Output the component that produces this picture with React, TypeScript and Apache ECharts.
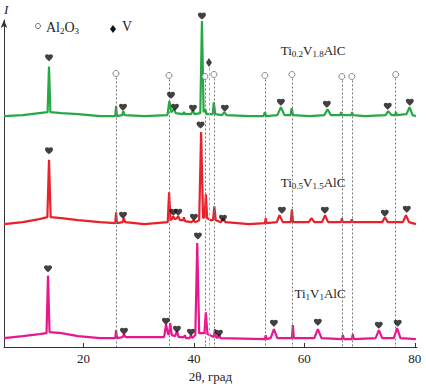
import React, { useEffect, useRef } from "react";
import * as echarts from "echarts";

// 2θ (deg), intensity (arbitrary units)
const xTicks = [20, 40, 60, 80];

const greenProfile: [number, number][] = [
  [5.6, 233], [9, 234], [12, 236], [13.5, 237], [13.75, 283], [14.0, 237], [16, 236], [19, 235], [23, 233],
  [25.75, 233], [25.9, 243], [26.05, 233], [27.0, 234], [27.2, 238], [27.45, 234], [31, 233],
  [35.2, 234], [35.55, 248], [35.9, 237], [36.4, 240], [36.7, 236], [38.0, 235], [38.2, 237], [38.4, 235],
  [39.5, 235], [39.82, 239], [40.1, 235], [41.15, 236], [41.45, 329], [41.75, 237], [42.05, 240], [42.3, 235],
  [43.4, 235], [43.6, 247], [43.85, 235], [45.1, 234], [45.5, 237], [45.9, 234], [50, 233],
  [52.6, 233], [52.85, 237], [53.1, 233], [55.1, 234], [55.75, 242], [56.4, 234], [57.5, 234], [57.7, 241],
  [57.95, 234], [61, 233], [63.6, 234], [64.2, 240], [64.8, 234], [66.5, 234], [66.65, 237], [66.8, 234],
  [68.5, 234], [68.65, 237], [68.8, 234], [71, 233], [74.7, 234], [75.2, 238], [75.8, 234], [76.45, 234],
  [76.6, 237], [76.75, 234], [78.5, 235], [79.05, 242], [79.6, 234], [80.2, 233],
];

const redProfile: [number, number][] = [
  [5.6, 124], [9, 126], [12, 129], [13.45, 131], [13.75, 189], [14.05, 131], [16, 130], [19, 128], [23, 126],
  [25.75, 125], [25.9, 136], [26.05, 125], [27.1, 126], [27.3, 130], [27.55, 126], [31, 124],
  [35.25, 126], [35.5, 156], [35.75, 128], [36.0, 129], [36.25, 132], [36.55, 129], [36.9, 130], [37.15, 132],
  [37.45, 128], [38.05, 128], [38.2, 131], [38.35, 127], [39.6, 126], [39.9, 128], [40.2, 126],
  [40.95, 128], [41.3, 217], [41.65, 130], [41.95, 132], [42.15, 154], [42.4, 130], [43.1, 128],
  [43.45, 128], [43.7, 142], [43.95, 128], [44.9, 126], [45.3, 130], [45.7, 126], [50, 124],
  [52.85, 125], [53.0, 130], [53.15, 125], [55.0, 126], [55.5, 133], [56.1, 126], [57.55, 126], [57.74, 139],
  [57.95, 126], [60.8, 126], [61.3, 130], [61.8, 126], [63.2, 126], [63.75, 133], [64.3, 126],
  [66.65, 126], [66.8, 130], [66.95, 126], [68.45, 126], [68.6, 129], [68.75, 126], [74.1, 126],
  [74.6, 131], [75.1, 126], [77.85, 126], [78.4, 133], [78.95, 126], [80.2, 124],
];

const magentaProfile: [number, number][] = [
  [5.6, 9], [9, 11], [12, 13], [13.3, 14], [13.57, 72], [13.85, 15], [16, 14], [19, 11], [23, 9],
  [25.75, 9], [25.9, 17], [26.05, 9], [27.1, 10], [27.33, 13], [27.6, 10], [34.6, 10], [34.95, 23],
  [35.3, 13], [35.5, 13], [35.7, 24], [36.0, 12], [36.6, 11], [36.92, 16], [37.25, 10], [38.2, 10],
  [38.37, 12], [38.55, 9], [39.2, 9], [39.46, 12], [39.7, 9], [40.25, 12], [40.6, 105], [40.95, 14],
  [41.9, 14], [42.15, 35], [42.45, 13], [43.6, 10], [43.8, 18], [44.0, 10], [44.3, 9], [44.55, 13],
  [44.8, 9], [52.85, 8], [53.0, 12], [53.15, 8], [53.9, 9], [54.48, 18], [55.1, 9], [57.75, 9],
  [57.92, 22], [58.1, 9], [61.8, 9], [62.45, 18], [63.1, 9], [66.8, 8], [66.97, 12], [67.15, 8],
  [68.6, 8], [68.78, 13], [68.95, 8], [72.9, 9], [73.5, 17], [74.1, 9], [76.2, 9], [76.8, 19],
  [77.4, 9], [80.2, 8],
];

// MAX-phase reflections (hearts)
const greenHearts: [number, number][] = [
  [13.75, 292], [27.15, 242], [35.84, 254], [36.56, 242], [39.82, 241], [41.45, 334],
  [45.6, 241], [55.75, 247], [64.07, 245], [75.1, 243], [79.1, 247],
];
const redHearts: [number, number][] = [
  [13.75, 198], [27.15, 133], [36.26, 136], [37.16, 136], [40.0, 131], [41.2, 224],
  [45.25, 130], [55.93, 138], [63.71, 138], [74.57, 135], [78.55, 139],
];
const magentaHearts: [number, number][] = [
  [13.57, 79], [27.33, 16], [34.93, 26], [36.92, 18], [39.46, 15], [40.72, 112],
  [44.52, 14], [54.48, 24], [62.44, 25], [73.48, 22], [76.9, 24],
];

// Al2O3 reference positions (circles) and V (diamond)
const al2o3Theta = [25.88, 35.48, 41.99, 43.62, 52.85, 57.74, 66.79, 68.6, 76.55];
const al2o3Mark = [276, 274, 273, 275, 274, 275, 273, 273, 275];
const vTheta = [42.72];
const vMark = [287];

const sampleNames = [
  { ti: "0.2", v: "1.8" },
  { ti: "0.5", v: "1.5" },
  { ti: "1", v: "1" },
];

const HEART =
  "path://M12 21.35l-1.45-1.32C5.4 15.36 2 12.28 2 8.5 2 5.42 4.42 3 7.5 3c1.74 0 3.41.81 4.5 2.09C13.09 3.81 14.76 3 16.5 3 19.58 3 22 5.42 22 8.5c0 3.78-3.4 6.86-8.55 11.54L12 21.35z";

export default function App() {
  const ref = useRef<HTMLDivElement>(null);
  useEffect(() => {
    document.body.style.margin = "0";
    const chart = echarts.init(ref.current!, null, { renderer: "svg" });
    const serif = "Liberation Serif";
    const ink = "#222";
    const subStyle = { fontSize: 9, fontFamily: serif, fill: ink, verticalAlign: "bottom", lineHeight: 8 };
    const mainStyle = { fontSize: 13, fontFamily: serif, fill: ink, lineHeight: 16 };
    const sampleText = (n: { ti: string; v: string }) =>
      `{m|Ti}{s|${n.ti}}{m|V}{s|${n.v}}{m|AlC}`;
    const samplePos = [
      [313, 50],
      [313, 182],
      [320, 293],
    ];

    const heartSeries = (data: [number, number][]) => ({
      type: "scatter",
      data,
      symbol: HEART,
      symbolSize: [8, 7],
      itemStyle: { color: "#111" },
      clip: false,
      silent: true,
      z: 5,
    });

    const option: any = {
      animation: false,
      backgroundColor: "#fff",
      textStyle: { fontFamily: serif },
      grid: { left: 4, right: 9, top: 20, bottom: 38 },
      xAxis: {
        type: "value",
        min: 5.6,
        max: 80.4,
        name: "2θ, град",
        nameLocation: "middle",
        nameGap: 23,
        nameTextStyle: { fontFamily: serif, fontSize: 13, color: ink },
        axisLine: { lineStyle: { color: "#333", width: 1 } },
        axisTick: { show: true, inside: true, length: 4, customValues: xTicks, lineStyle: { color: "#333" } },
        axisLabel: { customValues: xTicks, fontFamily: serif, fontSize: 13, color: ink, margin: 5 },
        splitLine: { show: false },
      },
      yAxis: {
        type: "value",
        min: 0,
        max: 330,
        axisLine: {
          show: true,
          symbol: ["none", "arrow"],
          symbolSize: [5, 8],
          lineStyle: { color: "#333", width: 1 },
        },
        axisTick: { show: false },
        axisLabel: { show: false },
        splitLine: { show: false },
      },
      graphic: [
        {
          type: "text",
          left: 4,
          top: 3,
          style: { text: "I", fontFamily: serif, fontSize: 13, fontStyle: "italic", fill: ink },
        },
        {
          type: "circle",
          shape: { cx: 38, cy: 26, r: 2.5 },
          style: { fill: "#fff", stroke: "#5f6f77", lineWidth: 1 },
        },
        {
          type: "text",
          x: 46,
          y: 27,
          style: {
            text: "{m|Al}{s|2}{m|O}{s|3}",
            textVerticalAlign: "middle",
            rich: { m: { ...mainStyle, fontSize: 14 }, s: subStyle },
          },
        },
        {
          type: "polygon",
          shape: { points: [[113, 25], [116, 29], [113, 33], [110, 29]] },
          style: { fill: "#111" },
        },
        {
          type: "text",
          x: 122,
          y: 26,
          style: { text: "V", fontFamily: serif, fontSize: 14, fill: ink, textVerticalAlign: "middle" },
        },
        ...sampleNames.map((n, i) => ({
          type: "text",
          x: samplePos[i][0],
          y: samplePos[i][1],
          style: {
            text: sampleText(n),
            textAlign: "center",
            textVerticalAlign: "middle",
            rich: { m: mainStyle, s: subStyle },
          },
        })),
      ],
      series: [
        {
          type: "scatter",
          data: al2o3Theta.map((t, i) => [t, al2o3Mark[i]]),
          symbol: "circle",
          symbolSize: 6,
          itemStyle: { color: "#fff", borderColor: "#5f6f77", borderWidth: 1 },
          clip: false,
          silent: true,
          z: 4,
          markLine: {
            silent: true,
            symbol: ["none", "none"],
            label: { show: false },
            lineStyle: { color: "#777", type: [2, 2], width: 1 },
            data: al2o3Theta.map((t, i) => [{ coord: [t, al2o3Mark[i] - 4] }, { coord: [t, 0] }]),
          },
        },
        {
          type: "scatter",
          data: vTheta.map((t, i) => [t, vMark[i]]),
          symbol: "diamond",
          symbolSize: [6, 9],
          itemStyle: { color: "#111" },
          clip: false,
          silent: true,
          z: 4,
          markLine: {
            silent: true,
            symbol: ["none", "none"],
            label: { show: false },
            lineStyle: { color: "#f2a53a", type: [3, 2], width: 1 },
            data: vTheta.map((t, i) => [{ coord: [t, vMark[i] - 5] }, { coord: [t, 0] }]),
          },
        },
        {
          type: "line",
          data: greenProfile,
          symbol: "none",
          lineStyle: { color: "#25a845", width: 2.2 },
          silent: true,
          z: 3,
        },
        {
          type: "line",
          data: redProfile,
          symbol: "none",
          lineStyle: { color: "#e8212b", width: 2.2 },
          silent: true,
          z: 3,
        },
        {
          type: "line",
          data: magentaProfile,
          symbol: "none",
          lineStyle: { color: "#e8178d", width: 2.2 },
          silent: true,
          z: 3,
        },
        heartSeries(greenHearts),
        heartSeries(redHearts),
        heartSeries(magentaHearts),
      ],
    };
    chart.setOption(option);
    return () => chart.dispose();
  }, []);
  return (
    <div
      ref={ref}
      style={{ position: "fixed", left: 0, top: 0, width: 426, height: 388, background: "#fff" }}
    />
  );
}
